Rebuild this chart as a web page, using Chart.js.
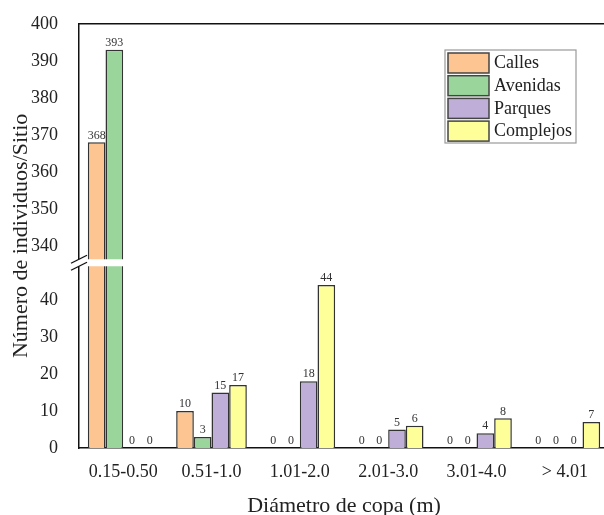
<!DOCTYPE html>
<html>
<head>
<meta charset="utf-8">
<script src="https://cdn.jsdelivr.net/npm/chart.js@4.4.1/dist/chart.umd.min.js"></script>
<style>
  html, body { margin: 0; padding: 0; background: #fff; overflow: hidden; }
  #wrap { position: relative; width: 609px; height: 515px; }
</style>
</head>
<body>
<div id="wrap"><canvas id="chart"></canvas></div>
<script>
// Data
const categories = ['0.15-0.50', '0.51-1.0', '1.01-2.0', '2.01-3.0', '3.01-4.0', '> 4.01'];
const seriesNames = ['Calles', 'Avenidas', 'Parques', 'Complejos'];
const calles = [368, 10, 0, 0, 0, 0];
const avenidas = [393, 3, 0, 0, 0, 0];
const parques = [0, 15, 18, 5, 4, 0];
const complejos = [0, 17, 44, 6, 8, 7];
const lowerTicks = [0, 10, 20, 30, 40];
const upperTicks = [340, 350, 360, 370, 380, 390, 400];
const lowerRange = [0, 50];
const upperRange = [335.5, 400];

const seriesValues = [calles, avenidas, parques, complejos];
const fills = ['#fcc591', '#9ad69b', '#bfaed8', '#ffff99'];
const serif = "'Liberation Serif', 'Times New Roman', serif";

Chart.defaults.font.family = serif;
Chart.defaults.color = '#222';

// two datasets per series: lower part and upper part of the broken axis
const datasets = [];
seriesValues.forEach((vals, i) => {
    const common = {
        label: seriesNames[i],
        backgroundColor: fills[i],
        borderColor: '#333',
        borderWidth: 1.5,
        stack: 's' + i,
        categoryPercentage: 0.8,
        barPercentage: 1.0
    };
    datasets.push(Object.assign({}, common, {
        data: vals.map(v => Math.min(v, lowerRange[1])),
        yAxisID: 'yLow'
    }));
    datasets.push(Object.assign({}, common, {
        data: vals.map(v => v > lowerRange[1] ? v : null),
        yAxisID: 'yHigh'
    }));
});

// Break marks, frame, value labels, legend, y title
const extras = {
    id: 'extras',
    afterDatasetsDraw(chart) {
        const { ctx, chartArea } = chart;
        const left = chartArea.left;
        const yb = chart.scales.yLow.top;

        ctx.save();
        // top frame line
        ctx.strokeStyle = '#111';
        ctx.lineWidth = 1.5;
        ctx.beginPath();
        ctx.moveTo(left, chartArea.top);
        ctx.lineTo(chartArea.right, chartArea.top);
        ctx.stroke();

        // white gap of the axis break
        ctx.fillStyle = '#fff';
        ctx.fillRect(left - 10, yb - 3.5, chartArea.right - left + 10, 7);
        ctx.lineWidth = 1.3;
        [-3.5, 3.5].forEach(d => {
            ctx.beginPath();
            ctx.moveTo(left - 8, yb + d + 4);
            ctx.lineTo(left + 8, yb + d - 4);
            ctx.stroke();
        });

        // value labels
        ctx.fillStyle = '#333';
        ctx.font = '12px ' + serif;
        ctx.textAlign = 'center';
        ctx.textBaseline = 'bottom';
        seriesValues.forEach((vals, i) => {
            const low = chart.getDatasetMeta(2 * i).data;
            const high = chart.getDatasetMeta(2 * i + 1).data;
            vals.forEach((v, j) => {
                const bar = v > lowerRange[1] ? high[j] : low[j];
                ctx.fillText(String(v), bar.x, bar.y - 1);
            });
        });

        // legend
        const lx = 445, ly = 50, lw = 131, lh = 93;
        ctx.strokeStyle = '#999';
        ctx.lineWidth = 1.2;
        ctx.strokeRect(lx, ly, lw, lh);
        ctx.font = '18px ' + serif;
        ctx.textAlign = 'left';
        ctx.textBaseline = 'middle';
        seriesNames.forEach((name, i) => {
            const ry = ly + 3 + i * 22.7;
            ctx.fillStyle = fills[i];
            ctx.fillRect(lx + 3, ry, 41, 20);
            ctx.strokeStyle = '#444';
            ctx.lineWidth = 1.5;
            ctx.strokeRect(lx + 3, ry, 41, 20);
            ctx.fillStyle = '#222';
            ctx.fillText(name, lx + 49, ry + 10.5);
        });

        // y axis title
        ctx.font = '22px ' + serif;
        ctx.textAlign = 'center';
        ctx.translate(21, (chartArea.top + chartArea.bottom) / 2);
        ctx.rotate(-Math.PI / 2);
        ctx.fillText('Número de individuos/Sitio', 0, 0);
        ctx.restore();
    }
};

const yCommon = {
    type: 'linear',
    position: 'left',
    stack: 'v',
    stacked: false,
    grid: { display: false },
    border: { display: true, color: '#111', width: 1.5 },
    ticks: { font: { size: 18 }, padding: 13, color: '#222', autoSkip: false },
    afterFit: s => { s.width = 79; }
};

new Chart(document.getElementById('chart'), {
    type: 'bar',
    data: { labels: categories, datasets: datasets },
    options: {
        responsive: true,
        maintainAspectRatio: false,
        animation: false,
        layout: { padding: { top: 20, right: 0, left: 0, bottom: 0 } },
        plugins: {
            legend: { display: false },
            tooltip: { enabled: false }
        },
        scales: {
            x: {
                grid: { display: false },
                border: { display: true, color: '#111', width: 1.5 },
                ticks: { font: { size: 18 }, padding: 5, color: '#222', maxRotation: 0 },
                title: {
                    display: true,
                    text: 'Diámetro de copa (m)',
                    font: { size: 22 },
                    color: '#222',
                    padding: { top: 0, bottom: -4 }
                },
                afterFit: s => { s.height = 67; }
            },
            // first defined stacked axis is placed at the top
            yLow: Object.assign({}, yCommon, {
                min: lowerRange[0],
                max: lowerRange[1],
                stackWeight: lowerRange[1] - lowerRange[0],
                afterBuildTicks: s => { s.ticks = lowerTicks.map(v => ({ value: v })); }
            }),
            yHigh: Object.assign({}, yCommon, {
                min: upperRange[0],
                max: upperRange[1],
                stackWeight: upperRange[1] - upperRange[0],
                afterBuildTicks: s => { s.ticks = upperTicks.map(v => ({ value: v })); }
            })
        }
    },
    plugins: [extras]
});
</script>
</body>
</html>
